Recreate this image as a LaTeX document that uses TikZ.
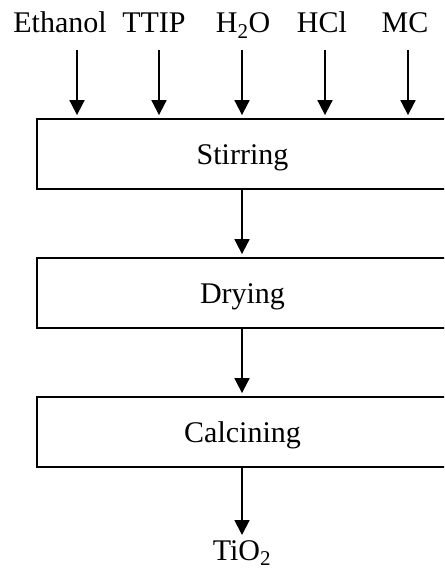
\documentclass[tikz,border=0pt]{standalone}
\usepackage{fontspec}
\setmainfont{Liberation Serif}
\usetikzlibrary{arrows.meta}
\begin{document}
\begin{tikzpicture}[x=1pt,y=1pt,
  every node/.style={font=\fontsize{30}{36}\selectfont, inner sep=0pt},
  procbox/.style={draw, line width=1.8pt, minimum width=411pt, minimum height=70pt, text height=20pt, text depth=0pt},
  flow/.style={line width=1.8pt, -{Triangle[length=15pt,width=15pt]}, shorten >=3pt}]
\useasboundingbox (0,0) rectangle (444,-575);
\clip (0,0) rectangle (444,-575);
% input labels
\node[anchor=base] (eth) at (60,-33) {Ethanol};
\node[anchor=base] (ttip) at (154,-33) {TTIP};
\node[anchor=base] (water) at (243,-33) {H\textsubscript{2}O};
\node[anchor=base] (hcl) at (322,-33) {HCl};
\node[anchor=base] (mc) at (405,-33) {MC};
% process boxes
\node[procbox] (stir) at (242.5,-154) {Stirring};
\node[procbox] (dry) at (242.5,-293) {Drying};
\node[procbox] (calc) at (242.5,-432) {Calcining};
\node[anchor=base] (tio) at (242,-560) {TiO\textsubscript{2}};
% arrow starts
\coordinate (s1) at (77,-50);
\coordinate (s2) at (159,-50);
\coordinate (s3) at (242,-50);
\coordinate (s4) at (325,-50);
\coordinate (s5) at (408,-50);
\foreach \c in {s1,s2,s3,s4,s5}
  \draw[flow] (\c) -- (stir.north -| \c);
\coordinate (t) at (242,-535);
\draw[flow] (stir.south -| s3) -- (dry.north -| s3);
\draw[flow] (dry.south -| s3) -- (calc.north -| s3);
\draw[flow, shorten >=0pt] (calc.south -| s3) -- (t);
\end{tikzpicture}
\end{document}
